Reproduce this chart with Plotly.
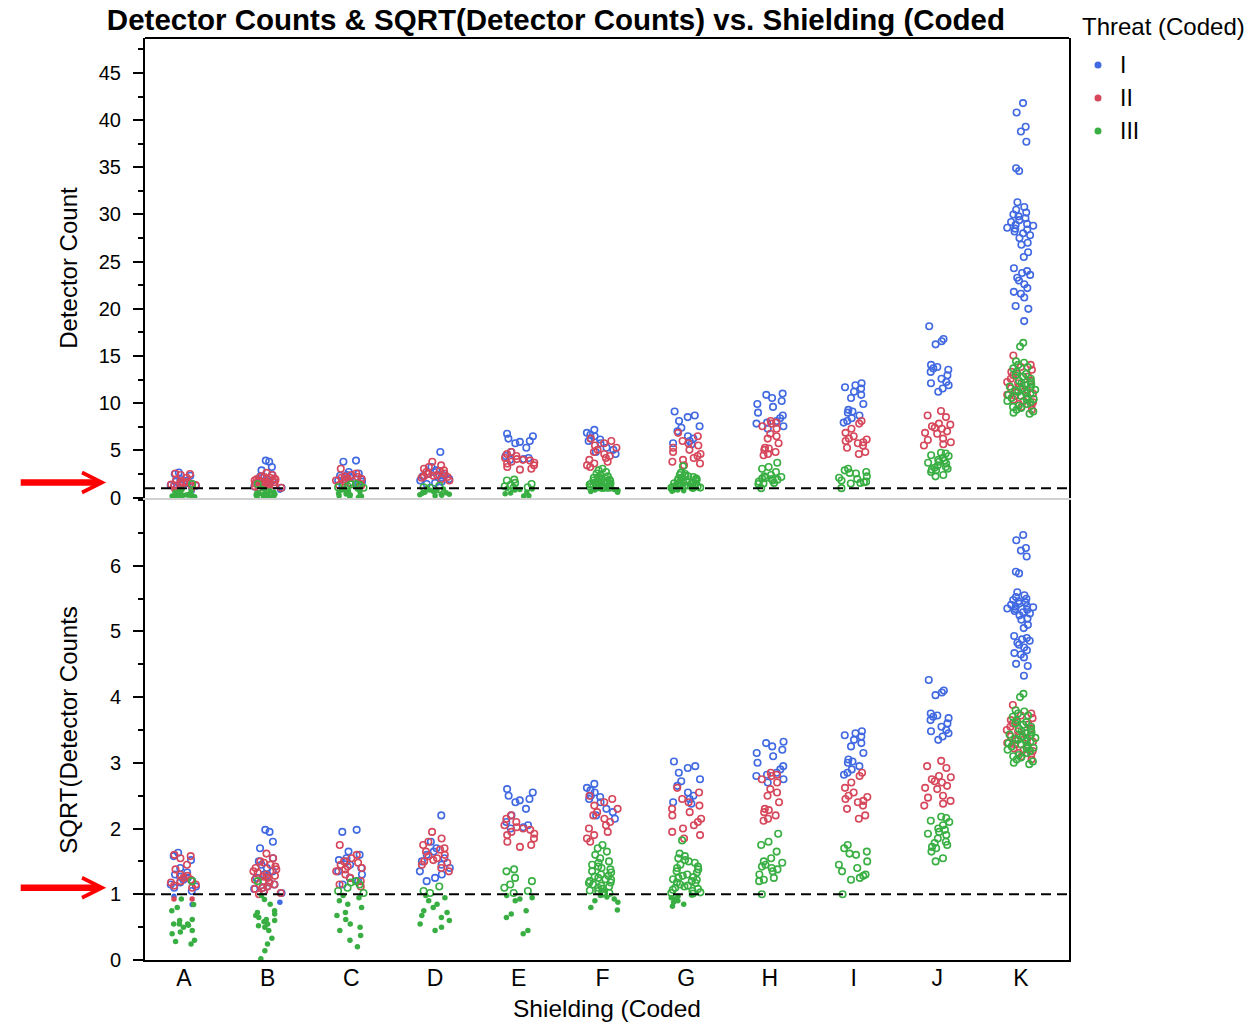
import math
import plotly.graph_objects as go
from plotly.subplots import make_subplots

# Shielding levels (coded) on the x axis
shielding = ["A", "B", "C", "D", "E", "F", "G", "H", "I", "J", "K"]
threat_levels = ["I", "II", "III"]
threat_colors = {"I": "#4169E1", "II": "#D6475B", "III": "#39AF43"}

# Detector counts per shielding level, one list per threat level
counts_I = {
    "A": [2.66, 2.50, 2.31, 1.96, 1.77, 1.69, 1.61, 1.56, 1.49, 1.44, 1.39, 1.32, 1.25, 1.21, 1.10, 0.94, 0.71],
    "B": [3.92, 3.80, 3.24, 2.89, 2.40, 2.25, 2.10, 1.96, 1.82, 1.69, 1.64, 1.56, 1.44, 1.39, 1.32, 1.25, 1.21,
          1.17, 1.10, 1.04, 0.77],
    "C": [3.92, 3.80, 2.72, 2.56, 2.40, 2.31, 2.25, 2.10, 1.96, 1.82, 1.69, 1.56, 1.44, 1.32],
    "D": [4.84, 3.24, 2.89, 2.72, 2.56, 2.40, 2.25, 2.10, 1.96, 1.82, 1.69, 1.56, 1.44],
    "E": [6.76, 6.50, 6.25, 6.00, 5.90, 5.76, 5.29, 4.84, 4.41, 4.20, 4.08, 4.00],
    "F": [7.18, 6.86, 6.66, 6.50, 6.25, 6.15, 6.00, 5.76, 5.29, 5.06, 4.84, 4.62],
    "G": [9.12, 8.70, 8.53, 8.12, 7.56, 7.40, 7.02, 6.50, 6.25, 6.00, 5.76, 5.66],
    "H": [11.02, 10.89, 10.56, 10.24, 9.92, 9.61, 9.00, 8.70, 8.41, 8.12, 7.95, 7.84, 7.56, 7.29],
    "I": [12.11, 11.90, 11.70, 11.56, 11.22, 10.89, 10.56, 9.92, 9.30, 9.12, 9.00, 8.70, 8.41, 8.12, 7.95],
    "J": [18.15, 16.81, 16.56, 16.24, 14.06, 13.84, 13.69, 13.54, 13.32, 12.96, 12.60, 12.25, 12.11, 11.90,
          11.56, 11.22],
    "K": [41.8, 40.8, 39.3, 38.8, 37.7, 34.9, 34.6, 31.3, 30.8, 30.5, 30.2, 30.0, 29.8, 29.6, 29.4, 29.2, 29.0,
          28.9, 28.8, 28.6, 28.5, 28.4, 28.2, 28.0, 27.8, 27.5, 27.0, 26.8, 26.0, 25.5, 24.3, 24.0, 23.8, 23.6,
          23.3, 23.0, 22.6, 22.2, 21.8, 21.6, 21.2, 20.3, 20.0, 18.7],
}

counts_II = {
    "A": [2.56, 2.50, 2.40, 2.10, 1.90, 1.69, 1.64, 1.56, 1.49, 1.44, 1.39, 1.32, 1.28, 1.21, 0.86, 0.86],
    "B": [2.62, 2.40, 2.25, 2.19, 2.10, 2.02, 1.96, 1.90, 1.82, 1.77, 1.69, 1.64, 1.61, 1.56, 1.49, 1.44, 1.39,
          1.32, 1.25, 1.21, 1.17, 1.10, 1.04, 1.00],
    "C": [3.06, 2.56, 2.40, 2.25, 2.19, 2.10, 2.02, 1.96, 1.90, 1.82, 1.69, 1.56, 1.44, 1.32, 1.25],
    "D": [3.80, 3.42, 3.24, 3.06, 2.89, 2.82, 2.72, 2.56, 2.50, 2.40, 2.31, 2.25, 2.19, 2.10, 1.96, 1.82],
    "E": [4.84, 4.62, 4.41, 4.20, 4.08, 4.00, 3.92, 3.80, 3.69, 3.61, 3.42, 3.24, 3.06, 2.96],
    "F": [6.25, 6.00, 5.76, 5.52, 5.29, 5.06, 4.84, 4.62, 4.41, 4.20, 4.00, 3.80, 3.61, 3.42, 3.24],
    "G": [6.86, 6.50, 6.00, 5.76, 5.52, 5.29, 5.06, 4.84, 4.62, 4.41, 4.20, 4.00, 3.80, 3.61, 3.42],
    "H": [8.12, 7.95, 7.84, 7.56, 7.29, 6.76, 6.50, 6.25, 5.76, 5.29, 5.20, 5.06, 4.84, 4.62, 4.49],
    "I": [8.12, 7.84, 7.29, 6.86, 6.50, 6.25, 6.15, 6.00, 5.86, 5.76, 5.52, 5.29, 4.84, 4.62],
    "J": [9.18, 8.70, 8.53, 7.84, 7.73, 7.56, 7.40, 7.29, 7.02, 6.86, 6.76, 6.25, 6.10, 5.86, 5.66, 5.52],
    "K": [15.05, 14.06, 13.84, 13.54, 13.32, 13.10, 12.96, 12.82, 12.60, 12.39, 12.25, 12.11, 11.90, 11.70,
          11.56, 11.42, 11.22, 11.02, 10.89, 10.76, 10.56, 10.37, 10.24, 10.11, 9.92, 9.73, 9.61, 9.30],
}

counts_III = {
    "A": [1.44, 0.86, 0.71, 0.64, 0.56, 0.38, 0.36, 0.30, 0.30, 0.30, 0.28, 0.25, 0.20, 0.18, 0.16, 0.09, 0.08,
          0.06],
    "B": [1.44, 0.96, 0.85, 0.72, 0.56, 0.52, 0.49, 0.46, 0.42, 0.38, 0.36, 0.34, 0.30, 0.27, 0.25, 0.20, 0.11,
          0.06, 0.02, 0.0004],
    "C": [1.44, 1.39, 1.32, 1.21, 1.10, 1.04, 0.96, 0.90, 0.81, 0.72, 0.64, 0.52, 0.46, 0.38, 0.30, 0.25, 0.20,
          0.14, 0.09, 0.04],
    "D": [1.25, 1.10, 1.04, 0.96, 0.90, 0.81, 0.72, 0.64, 0.56, 0.52, 0.46, 0.42, 0.36, 0.30, 0.25, 0.20],
    "E": [1.90, 1.82, 1.56, 1.44, 1.32, 1.21, 1.10, 1.04, 0.96, 0.90, 0.86, 0.81, 0.56, 0.49, 0.42, 0.20, 0.16],
    "F": [3.06, 2.89, 2.72, 2.56, 2.40, 2.25, 2.19, 2.10, 2.02, 1.96, 1.90, 1.82, 1.77, 1.69, 1.64, 1.61, 1.56,
          1.51, 1.49, 1.44, 1.39, 1.37, 1.32, 1.28, 1.25, 1.21, 1.17, 1.12, 1.10, 1.06, 1.04, 1.02, 0.96, 0.92,
          0.86, 0.81, 0.77, 0.64, 0.58],
    "G": [3.31, 2.62, 2.50, 2.40, 2.31, 2.25, 2.19, 2.10, 2.02, 1.96, 1.90, 1.82, 1.77, 1.69, 1.64, 1.59, 1.56,
          1.51, 1.49, 1.44, 1.39, 1.37, 1.32, 1.28, 1.25, 1.21, 1.17, 1.14, 1.10, 1.06, 1.04, 1.02, 0.98, 0.94,
          0.90, 0.86, 0.81, 0.77, 0.72, 0.67],
    "H": [3.69, 3.24, 3.06, 2.72, 2.40, 2.25, 2.19, 2.10, 2.02, 1.96, 1.90, 1.82, 1.69, 1.56, 1.49, 1.44, 1.00],
    "I": [3.06, 2.89, 2.72, 2.62, 2.56, 2.25, 2.10, 1.96, 1.82, 1.69, 1.64, 1.56, 1.49, 1.00],
    "J": [4.75, 4.67, 4.49, 4.41, 4.20, 4.00, 3.92, 3.80, 3.69, 3.61, 3.42, 3.24, 3.17, 3.06, 2.96, 2.89, 2.72,
          2.40, 2.25],
    "K": [16.40, 16.00, 14.44, 14.29, 14.06, 13.84, 13.69, 13.32, 13.10, 12.96, 12.82, 12.60, 12.39, 12.25,
          12.11, 12.04, 11.90, 11.76, 11.70, 11.56, 11.42, 11.36, 11.22, 11.09, 11.02, 10.89, 10.76, 10.69, 10.56,
          10.43, 10.37, 10.24, 10.11, 9.92, 9.73, 9.61, 9.49, 9.30, 9.12, 9.00, 8.88],
}

counts_by_threat = {"I": counts_I, "II": counts_II, "III": counts_III}
threshold = 1.0

FONT = "Liberation Sans, Arial, sans-serif"
W, H = 1251, 1022
M_L, M_R, M_T, M_B = 145, 182, 38, 62
PLOT_W, PLOT_H = W - M_L - M_R, H - M_T - M_B


def px_to_paper(px, py):
    return (px - M_L) / PLOT_W, (H - M_B - py) / PLOT_H


fig = make_subplots(rows=2, cols=1, shared_xaxes=True, vertical_spacing=0.002)

for level in threat_levels:
    color = threat_colors[level]
    data = counts_by_threat[level]
    for row, transform in ((1, lambda v: v), (2, math.sqrt)):
        for is_open in (False, True):
            xs, ys = [], []
            for cat in shielding:
                for v in data[cat]:
                    if (v >= threshold) == is_open:
                        xs.append(cat)
                        ys.append(transform(v))
            marker = dict(color=color, size=6.5 if is_open else 5.5,
                          symbol="circle-open" if is_open else "circle",
                          line=dict(width=1.6 if is_open else 0, color=color))
            fig.add_trace(go.Box(
                x=xs, y=ys, name=level, legendgroup=level, showlegend=False,
                boxpoints="all", jitter=0.75, pointpos=0, width=0.5,
                fillcolor="rgba(0,0,0,0)", line=dict(width=0, color="rgba(0,0,0,0)"),
                whiskerwidth=0, marker=marker, hoveron="points",
            ), row=row, col=1)

axis_common = dict(
    showgrid=False, zeroline=False, showline=True, linecolor="black", linewidth=2,
    ticks="outside", ticklen=10, tickwidth=1.5, tickcolor="black",
    tickfont=dict(size=20, family=FONT, color="black"), ticklabelstandoff=8,
    mirror=True, automargin=False,
)

fig.update_yaxes(
    range=[-0.05, 48.7], tickvals=list(range(0, 50, 5)),
    minor=dict(dtick=2.5, ticks="outside", ticklen=5, tickwidth=1.5, tickcolor="black", showgrid=False),
    title=dict(text="Detector Count", font=dict(size=24, family=FONT, color="black"), standoff=14),
    row=1, col=1, **axis_common,
)
fig.update_yaxes(
    range=[0, 7.0], tickvals=list(range(0, 7)),
    minor=dict(dtick=0.5, ticks="outside", ticklen=5, tickwidth=1.5, tickcolor="black", showgrid=False),
    title=dict(text="SQRT(Detector Counts", font=dict(size=24, family=FONT, color="black"), standoff=25),
    row=2, col=1, **axis_common,
)

x_range = [-0.466, 10.574]
fig.update_xaxes(
    type="category", categoryorder="array", categoryarray=shielding, range=x_range,
    showgrid=False, zeroline=False, ticks="", ticklen=0, automargin=False,
)
fig.update_xaxes(showticklabels=False, showline=True, linecolor="#d0d0d0", linewidth=2, row=1, col=1)
fig.update_xaxes(
    showticklabels=True, showline=True, linecolor="black", linewidth=2,
    tickfont=dict(size=23, family=FONT, color="black"), ticklabelstandoff=-4,
    title=dict(text="Shielding (Coded", font=dict(size=24.5, family=FONT, color="black"), standoff=16),
    row=2, col=1,
)

shapes = [
    # top border of the upper panel
    dict(type="line", xref="x domain", yref="y domain", x0=0, x1=1, y0=1, y1=1,
         line=dict(color="black", width=2)),
    # reference lines at a count of 1
    dict(type="line", xref="x domain", yref="y", x0=0, x1=1, y0=threshold, y1=threshold,
         line=dict(color="black", width=2, dash="10px,6px")),
    dict(type="line", xref="x2 domain", yref="y2", x0=0, x1=1, y0=math.sqrt(threshold),
         y1=math.sqrt(threshold), line=dict(color="black", width=2, dash="10px,6px")),
]

arrow = dict(text="", showarrow=True, arrowhead=5, arrowsize=0.6, arrowwidth=6.5,
             arrowcolor="#FF0000", ax=-87, ay=0, xref="paper", x=-0.042)
annotations = [
    dict(yref="y", y=1.6, **arrow),
    dict(yref="y2", y=1.1, **arrow),
]

# legend block: title, coloured dots and level names
lx, ly = px_to_paper(1080, 26)
annotations.append(dict(text="Threat (Coded)", xref="paper", yref="paper", x=lx, y=ly,
                        xanchor="left", yanchor="middle", showarrow=False,
                        font=dict(size=24, family=FONT, color="black")))
for i, level in enumerate(threat_levels):
    row_y = 65 + 33 * i
    dx, dy = px_to_paper(1098, row_y)
    shapes.append(dict(type="circle", xref="paper", yref="paper", xsizemode="pixel", ysizemode="pixel",
                       xanchor=dx, yanchor=dy, x0=-3.5, x1=3.5, y0=-3.5, y1=3.5,
                       fillcolor=threat_colors[level], line=dict(width=0)))
    tx, ty = px_to_paper(1118, row_y)
    annotations.append(dict(text=level, xref="paper", yref="paper", x=tx, y=ty,
                            xanchor="left", yanchor="middle", showarrow=False,
                            font=dict(size=23, family=FONT, color="black")))

fig.update_layout(
    width=W, height=H,
    margin=dict(l=M_L, r=M_R, t=M_T, b=M_B, autoexpand=False),
    paper_bgcolor="white", plot_bgcolor="white",
    font=dict(family=FONT, color="black"),
    boxmode="overlay",
    showlegend=False,
    title=dict(text="Detector Counts & SQRT(Detector Counts) vs. Shielding (Coded",
               font=dict(size=29.5, family=FONT, color="black", weight="bold"),
               x=0.4444, xref="container", xanchor="center",
               y=1 - 20 / 1022, yref="container", yanchor="middle"),
    shapes=shapes,
    annotations=annotations,
)

fig.write_html("out.html")
